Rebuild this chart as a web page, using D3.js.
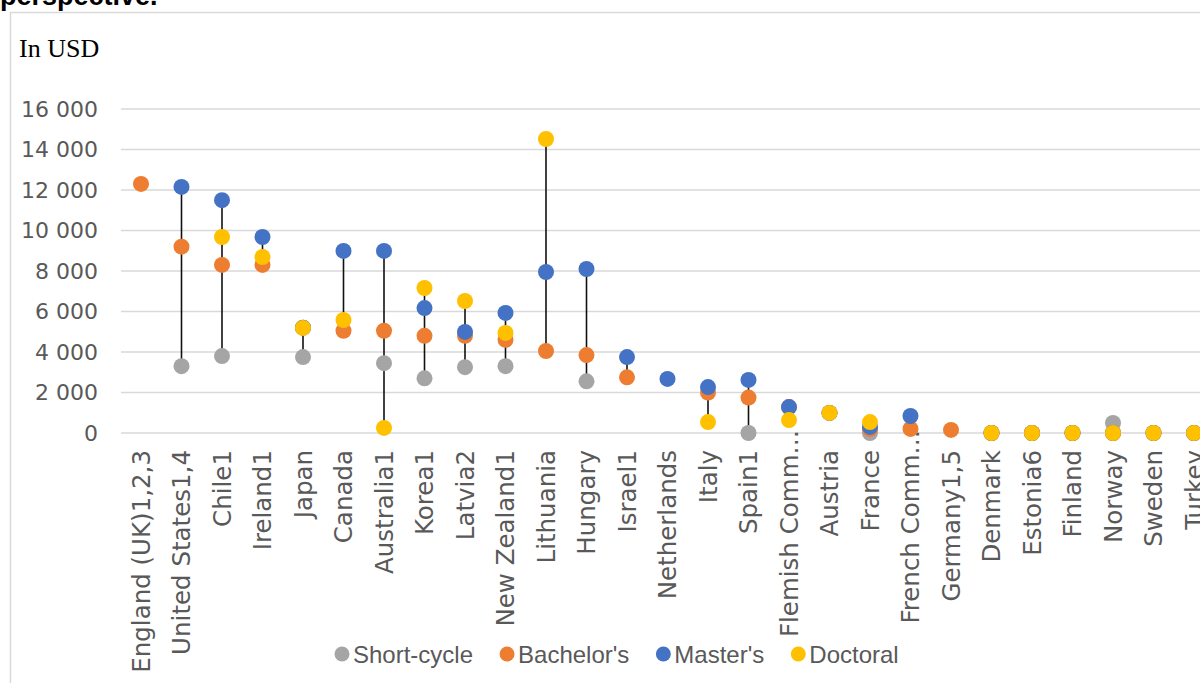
<!DOCTYPE html>
<html>
<head>
<meta charset="utf-8">
<script src="https://cdn.jsdelivr.net/npm/d3@7"></script>
<style>
  body { margin: 0; background: #fff; overflow: hidden; }
  svg { display: block; }
</style>
</head>
<body>
<div id="chart"></div>
<script>
// categories along the x axis
const countries = ['England (UK)1,2,3', 'United States1,4', 'Chile1', 'Ireland1', 'Japan', 'Canada',
    'Australia1', 'Korea1', 'Latvia2', 'New Zealand1', 'Lithuania', 'Hungary', 'Israel1', 'Netherlands',
    'Italy', 'Spain1', 'Flemish Comm…', 'Austria', 'France', 'French Comm…', 'Germany1,5', 'Denmark',
    'Estonia6', 'Finland', 'Norway', 'Sweden', 'Turkey'];

// tuition fees in USD, null = no data
const shortCycle = [null, 3300, 3800, null, 3750, null, 3450, 2700, 3250, 3300, null, 2550, null, null,
    null, 0, null, null, 0, null, null, 0, 0, 0, 500, 0, 0];
const bachelors = [12300, 9200, 8300, 8300, 5200, 5050, 5050, 4800, 4800, 4600, 4050, 3850, 2750, null,
    2000, 1750, 1280, 990, 200, 200, 150, 0, 0, 0, 0, 0, 0];
const masters = [null, 12150, 11500, 9680, 5200, 8990, 8990, 6170, 4990, 5930, 7950, 8100, 3750, 2670,
    2270, 2620, 1280, 990, 300, 840, null, 0, 0, 0, 0, 0, 0];
const doctoral = [null, null, 9680, 8690, 5190, 5580, 250, 7160, 6520, 4940, 14520, null, null, null,
    540, null, 640, 990, 540, null, null, 0, 0, 0, 0, 0, 0];

const yTicks = [0, 2000, 4000, 6000, 8000, 10000, 12000, 14000, 16000];

const series = [
    { name: 'Short-cycle', values: shortCycle, color: '#A5A5A5' },
    { name: "Bachelor's", values: bachelors, color: '#ED7D31' },
    { name: "Master's", values: masters, color: '#4472C4' },
    { name: 'Doctoral', values: doctoral, color: '#FFC000' }
];

const width = 1200;
const height = 683;
const dotR = 8;

const svg = d3.select('#chart')
    .append('svg')
    .attr('width', width)
    .attr('height', height);

// title, cut off at the top of the picture
svg.append('text')
    .attr('x', 0)
    .attr('y', 5)
    .style('font-family', 'Liberation Sans, Arial, sans-serif')
    .style('font-weight', 'bold')
    .style('font-size', '27px')
    .attr('fill', '#000')
    .text('perspective.');

// chart frame
svg.append('rect')
    .attr('x', 10.5)
    .attr('y', 12.5)
    .attr('width', 1300)
    .attr('height', 800)
    .attr('fill', 'none')
    .attr('stroke', '#d9d9d9')
    .attr('stroke-width', 1.5);

svg.append('text')
    .attr('x', 19)
    .attr('y', 57)
    .style('font-family', 'Liberation Serif, Times New Roman, serif')
    .style('font-size', '26px')
    .attr('fill', '#000')
    .text('In USD');

const step = 40.5;
const x = d3.scalePoint()
    .domain(countries)
    .range([141, 141 + step * (countries.length - 1)]);

const y = d3.scaleLinear()
    .domain([0, 16000])
    .range([433, 109]);

// gridlines
svg.append('g')
    .selectAll('line')
    .data(yTicks)
    .enter()
    .append('line')
    .attr('x1', 121)
    .attr('x2', 1300)
    .attr('y1', d => y(d))
    .attr('y2', d => y(d))
    .attr('stroke', '#d9d9d9')
    .attr('stroke-width', 1.5);

// y axis labels
const fmt = d => d3.format(',')(d).replace(/,/g, ' ');
svg.append('g')
    .selectAll('text')
    .data(yTicks)
    .enter()
    .append('text')
    .attr('x', 98)
    .attr('y', d => y(d))
    .attr('dy', '0.36em')
    .attr('text-anchor', 'end')
    .style('font-family', 'DejaVu Sans, Verdana, sans-serif')
    .style('font-size', '22px')
    .attr('fill', '#595959')
    .text(fmt);

// x axis labels (rotated); truncated ones let the ellipsis run up past the axis
svg.append('g')
    .selectAll('text')
    .data(countries)
    .enter()
    .append('text')
    .attr('transform', d => `translate(${x(d)}, ${d.endsWith('…') ? 430 : 450}) rotate(-90)`)
    .attr('dy', '0.36em')
    .attr('text-anchor', 'end')
    .style('font-family', 'DejaVu Sans, Verdana, sans-serif')
    .style('font-size', '24.5px')
    .attr('fill', '#595959')
    .text(d => d);

// high-low lines
const ranges = countries.map((c, i) => {
    const vals = series.map(s => s.values[i]).filter(v => v !== null);
    return { c, lo: d3.min(vals), hi: d3.max(vals) };
}).filter(r => r.hi > r.lo);

svg.append('g')
    .selectAll('line')
    .data(ranges)
    .enter()
    .append('line')
    .attr('x1', d => x(d.c))
    .attr('x2', d => x(d.c))
    .attr('y1', d => y(d.lo))
    .attr('y2', d => y(d.hi))
    .attr('stroke', '#111')
    .attr('stroke-width', 1.6);

// dots, one layer per series
series.forEach(s => {
    svg.append('g')
        .selectAll('circle')
        .data(countries.map((c, i) => ({ c, v: s.values[i] })).filter(d => d.v !== null))
        .enter()
        .append('circle')
        .attr('cx', d => x(d.c))
        .attr('cy', d => y(d.v))
        .attr('r', dotR)
        .attr('fill', s.color);
});

// legend
const legend = svg.append('g');
let lx = 342;
series.forEach(s => {
    legend.append('circle')
        .attr('cx', lx)
        .attr('cy', 654)
        .attr('r', 7.5)
        .attr('fill', s.color);
    const t = legend.append('text')
        .attr('x', lx + 11)
        .attr('y', 654)
        .attr('dy', '0.36em')
        .style('font-family', 'Liberation Sans, Arial, sans-serif')
        .style('font-size', '24px')
        .attr('fill', '#595959')
        .text(s.name);
    lx += 11 + t.node().getComputedTextLength() + 34;
});
</script>
</body>
</html>
